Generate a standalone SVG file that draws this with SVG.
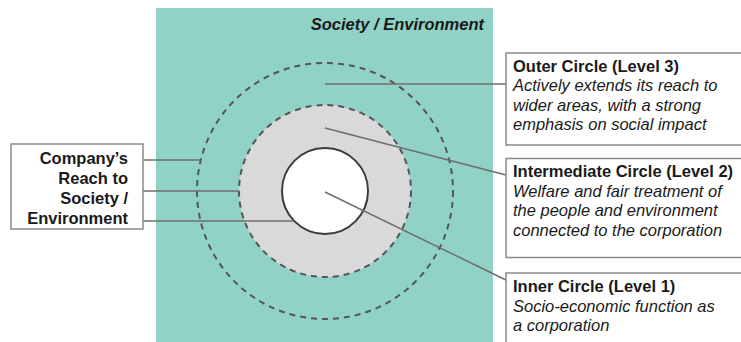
<svg xmlns="http://www.w3.org/2000/svg" width="741" height="342" viewBox="0 0 741 342">
  <style>
    text { font-family: "Liberation Sans", Arial, sans-serif; font-size: 16.5px; fill: #1a1a1a; }
    .b { font-weight: bold; }
    .i { font-style: italic; }
    .box { fill: #ffffff; stroke: #8a8a8a; stroke-width: 1.5; }
    .dash { fill: none; stroke: #555555; stroke-width: 2; stroke-dasharray: 6 5; }
    .conn { fill: none; stroke: #6e6e6e; stroke-width: 1.5; }
  </style>
  <rect x="0" y="0" width="741" height="342" fill="#ffffff"/>

  <g id="society-environment">
    <rect x="156" y="8" width="337" height="340" fill="#91d2c7"/>
    <text x="484" y="30" text-anchor="end" class="b i">Society / Environment</text>
  </g>

  <g id="intermediate-circle">
    <circle cx="325" cy="191" r="86" fill="#d9d9d9"/>
    <circle cx="325" cy="191" r="86" class="dash"/>
  </g>
  <g id="outer-circle">
    <circle cx="325" cy="191" r="128" class="dash"/>
  </g>
  <g id="inner-circle">
    <circle cx="325" cy="191" r="43" fill="#ffffff" stroke="#3c3c3c" stroke-width="2"/>
  </g>

  <g id="connectors">
    <line x1="143" y1="160" x2="201" y2="160" class="conn"/>
    <line x1="143" y1="191" x2="239" y2="191" class="conn"/>
    <line x1="143" y1="221" x2="294" y2="221" class="conn"/>
    <line x1="325" y1="84" x2="506" y2="84" class="conn"/>
    <line x1="325" y1="128" x2="506" y2="175" class="conn"/>
    <line x1="325" y1="192" x2="506" y2="280" class="conn"/>
  </g>

  <g id="reach-label">
    <rect x="11" y="144" width="132" height="85" class="box"/>
    <text x="128" y="164" text-anchor="end" class="b">Company’s</text>
    <text x="128" y="184" text-anchor="end" class="b">Reach to</text>
    <text x="128" y="204" text-anchor="end" class="b">Society /</text>
    <text x="128" y="224" text-anchor="end" class="b">Environment</text>
  </g>

  <g id="outer-label">
    <rect x="506" y="53" width="245" height="92" class="box"/>
    <text x="513" y="71.5" class="b">Outer Circle (Level 3)</text>
    <text x="513" y="91" class="i">Actively extends its reach to</text>
    <text x="513" y="110.5" class="i">wider areas, with a strong</text>
    <text x="513" y="130" class="i">emphasis on social impact</text>
  </g>

  <g id="intermediate-label">
    <rect x="506" y="158.5" width="245" height="99" class="box"/>
    <text x="513" y="177" class="b">Intermediate Circle (Level 2)</text>
    <text x="513" y="196.5" class="i">Welfare and fair treatment of</text>
    <text x="513" y="216" class="i">the people and environment</text>
    <text x="513" y="235.5" class="i">connected to the corporation</text>
  </g>

  <g id="inner-label">
    <rect x="506" y="273" width="245" height="80" class="box"/>
    <text x="513" y="292" class="b">Inner Circle (Level 1)</text>
    <text x="513" y="311.5" class="i">Socio-economic function as</text>
    <text x="513" y="331" class="i">a corporation</text>
  </g>
</svg>
